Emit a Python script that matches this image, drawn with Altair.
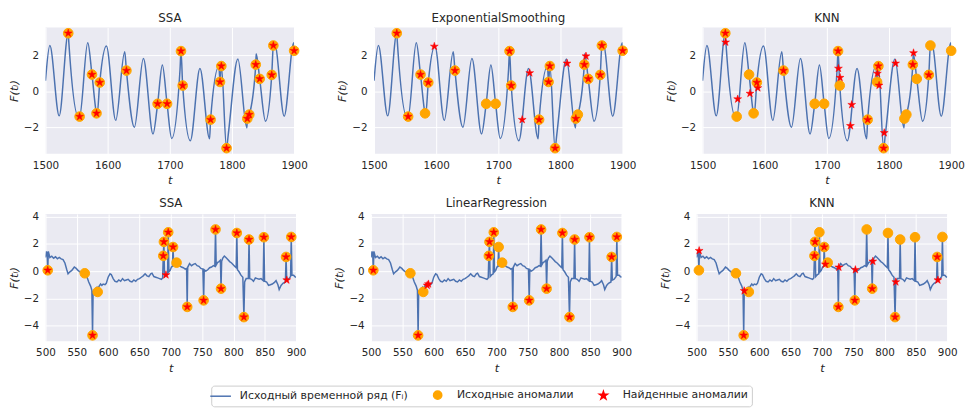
import altair as alt
import pandas as pd

# ---------------- labels ----------------
LBL_LINE = "Исходный временной ряд (Fᵢ)"
LBL_ANOM = "Исходные аномалии"
LBL_FOUND = "Найденные аномалии"

# ---------------- top row (t = 1500..1900) ----------------
top_start_t = [1500]
top_start_v = [0.6]
top_peak_t = [1507, 1537.5, 1568, 1598, 1627.5, 1657.5, 1688, 1716.5, 1748.5, 1779, 1809.5, 1839, 1869, 1899.5]
top_peak_v = [2.55, 2.75, 2.7, 2.52, 2.2, 1.83, 1.47, 1.25, 1.28, 1.38, 1.8, 2.1, 2.6, 2.7]
top_trough_t = [1522, 1553, 1583, 1613, 1643, 1673, 1703, 1733, 1764, 1794, 1824, 1854, 1884]
top_trough_v = [-1.35, -1.4, -1.3, -1.6, -1.98, -2.35, -2.6, -2.73, -2.62, -2.4, -2.02, -1.65, -1.37]

top_anom_t = [1536.6, 1554.9, 1574.8, 1582.1, 1587.3, 1630.2, 1680.4, 1695.6, 1718.0, 1720.7, 1765.6,
              1780.8, 1782.9, 1791.3, 1824.7, 1827.9, 1838.3, 1844.6, 1864.0, 1866.6, 1900.0]
top_anom_v = [3.23, -1.39, 0.94, -1.21, 0.50, 1.16, -0.68, -0.68, 2.24, 0.33, -1.56,
              0.53, 1.41, -3.14, -1.50, -1.28, 1.49, 0.70, 0.92, 2.55, 2.26]

ssa_top_t = [1536.6, 1554.9, 1574.8, 1582.1, 1587.3, 1630.2, 1680.4, 1695.6, 1718.0, 1720.7, 1765.6,
             1780.8, 1782.9, 1791.3, 1824.7, 1827.9, 1838.3, 1844.6, 1864.0, 1866.6, 1900.0]
ssa_top_v = [3.23, -1.39, 0.94, -1.21, 0.50, 1.16, -0.68, -0.68, 2.24, 0.33, -1.56,
             0.53, 1.41, -3.14, -1.50, -1.28, 1.49, 0.70, 0.92, 2.55, 2.26]

es_top_t = [1536.6, 1554.9, 1574.8, 1587.3, 1597.0, 1630.2, 1718.0, 1720.7, 1738.4, 1750.5, 1765.6,
            1780.8, 1782.9, 1791.3, 1810.6, 1824.7, 1838.3, 1841.0, 1844.6, 1864.0, 1866.6, 1900.0]
es_top_v = [3.23, -1.39, 0.94, 0.50, 2.50, 1.16, 2.24, 0.33, -1.56, 1.03, -1.56,
            0.53, 1.41, -3.14, 1.56, -1.50, 1.49, 1.96, 0.70, 0.92, 2.55, 2.26]

knn_top_t = [1536.6, 1537.1, 1556.5, 1576.3, 1587.3, 1588.9, 1630.2, 1718.0, 1718.6, 1721.2, 1737.9,
             1740.0, 1765.6, 1781.3, 1782.9, 1784.0, 1791.3, 1792.3, 1810.6, 1838.3, 1839.4, 1864.0]
knn_top_v = [3.23, 2.73, -0.42, -0.11, 0.50, 0.20, 1.16, 2.24, 1.28, 0.77, -1.90,
             -0.73, -1.56, 1.00, 1.41, 0.34, -3.14, -2.29, 1.56, 1.49, 2.14, 0.92]

# ---------------- bottom row (t = 500..900) ----------------
bot_base_t = [500, 501.5, 502.6, 504.5, 507, 510, 513, 516, 519, 522, 525, 528, 531, 534, 536, 539, 542,
              546, 549, 552, 556, 559, 566, 569, 572, 574, 576, 579, 582, 585, 588, 590, 592, 595, 597,
              600, 603, 605, 608, 611, 614, 617, 620, 623, 626, 629, 632, 635, 638, 641, 644, 647, 650,
              653, 656, 659, 662, 665, 668, 670, 673, 676, 679, 682, 685, 687, 690, 692.3, 694.9, 697,
              699, 701, 702.6, 704.6, 705.4, 707, 711, 714, 717, 720, 723, 725.2, 727, 730, 733, 736,
              739, 742, 745, 748, 751.2, 753.4, 756, 759, 762, 765, 768, 770.3, 772.5, 775, 777, 779.2,
              781.2, 783, 785.5, 788, 791, 794, 797, 800, 803, 804.4, 806.4, 809, 812, 815, 817.9, 820.3,
              823.8, 826, 829, 832, 835, 838, 841, 844, 847.5, 849.7, 853, 856, 859, 862, 865, 868, 871,
              873, 876, 879, 882.9, 885.1, 888, 891.2, 893.4, 896, 898, 900]
bot_base_v = [1.0, 1.45, 1.3, 1.45, 1.0, 1.1, 0.95, 1.05, 0.9, 1.0, 0.9, 0.85, 0.6, 0.1, -0.2, -0.05, 0.05,
              0.3, 0.2, 0.05, -0.1, -0.05, -0.4, -0.8, -1.1, -1.4, -1.5, -1.35, -1.2, -1.15, -0.95, -1.05,
              -0.95, -1.0, -0.9, -0.45, -0.2, -0.25, -0.55, -0.75, -0.8, -0.65, -0.75, -0.55, -0.7, -0.65,
              -0.6, -0.75, -0.8, -0.65, -0.75, -0.6, -0.55, -0.45, -0.35, -0.2, -0.35, -0.4, -0.2, -0.15,
              -0.4, -0.45, -0.5, -0.55, -0.6, -0.5, -0.4, -0.28, -0.2, -0.05, 0.05, 0.3, 0.35, 0.45, 0.5,
              0.45, 0.4, 0.4, 0.3, 0.25, 0.15, 0.2, 0.28, 0.55, 0.4, 0.5, 0.55, 0.4, 0.35, 0.2, 0.15, 0.1,
              0.0, 0.1, 0.25, 0.3, 0.4, 0.35, 0.45, 0.65, 0.7, 0.8, 0.72, 0.95, 1.1, 1.0, 0.85, 0.7, 0.6,
              0.45, 0.3, 0.25, 0.1, -0.05, -0.3, -0.45, -0.8, -0.55, -0.55, -0.55, -0.6, -0.75, -0.5,
              -0.55, -0.6, -0.55, -0.7, -0.75, -0.8, -1.05, -1.0, -0.95, -0.85, -0.7, -1.0, -1.35, -1.05,
              -0.9, -0.8, -0.66, -0.6, -0.4, -0.3, -0.3, -0.4, -0.45]

bot_anom_t = [503.6, 562.7, 575.1, 583.3, 688, 689, 695.9, 703.6, 709.2, 726.2, 752.4, 771.4, 780.2,
              805.4, 816.7, 824.9, 848.6, 884, 892.3]
bot_anom_v = [0.06, -0.16, -4.72, -1.53, 1.12, 2.15, 2.85, 1.77, 0.62, -2.63, -2.15, 3.06, -1.29,
              2.80, -3.38, 2.32, 2.49, 1.04, 2.51]

ssa_bot_t = [503.6, 575.1, 688, 689, 692.3, 695.9, 703.6, 726.2, 752.4, 771.4, 780.2, 805.4, 816.7,
             824.9, 848.6, 884, 885.1, 892.3]
ssa_bot_v = [0.06, -4.72, 1.12, 2.15, -0.28, 2.85, 1.77, -2.63, -2.15, 3.06, -1.29, 2.80, -3.38,
             2.32, 2.49, 1.04, -0.66, 2.51]

lr_bot_t = [503.6, 575.1, 589.6, 591.6, 688, 689, 695.9, 726.2, 752.4, 771.4, 780.2, 805.4, 816.7,
            824.9, 848.6, 884, 892.3]
lr_bot_v = [0.06, -4.72, -1.05, -0.95, 1.12, 2.15, 2.85, -2.63, -2.15, 3.06, -1.29, 2.80, -3.38,
            2.32, 2.49, 1.04, 2.51]

knn_bot_t = [504, 575.1, 575.9, 688, 689, 703.6, 705.4, 726.2, 727, 752.4, 753.4, 780.2, 781.2,
             816.7, 817.9, 884, 885.1]
knn_bot_v = [1.50, -4.72, -1.45, 1.12, 2.15, 1.77, 0.50, -2.63, 0.28, -2.15, 0.10, -1.29, 0.72,
             -3.38, -0.80, 1.04, -0.66]

# ---------------- styling constants ----------------
BLUE = "#4C72B0"
ORANGE = "#FFA500"
RED = "#FF0000"
STAR = ("M0,-1L0.2245,-0.309L0.9511,-0.309L0.3633,0.118L0.5878,0.809L0,0.382"
        "L-0.5878,0.809L-0.3633,0.118L-0.9511,-0.309L-0.2245,-0.309Z")
LEGEND_LINE = "M-2.5,0L2.5,0"
FONT = "DejaVu Sans"
DOMAIN = [LBL_LINE, LBL_ANOM, LBL_FOUND]


def merge_series(ts_lists, vs_lists):
    pts = {}
    for ts, vs in zip(ts_lists, vs_lists):
        for t, v in zip(ts, vs):
            pts[t] = v
    items = sorted(pts.items())
    return pd.DataFrame({"t": [a for a, _ in items], "v": [b for _, b in items], "kind": LBL_LINE})


def pts_df(ts, vs, kind):
    return pd.DataFrame({"t": ts, "v": vs, "kind": kind})


top_line = merge_series([top_start_t, top_peak_t, top_trough_t, top_anom_t],
                        [top_start_v, top_peak_v, top_trough_v, top_anom_v])
bot_line = merge_series([bot_base_t, bot_anom_t], [bot_base_v, bot_anom_v])
top_anom = pts_df(top_anom_t, top_anom_v, LBL_ANOM)
bot_anom = pts_df(bot_anom_t, bot_anom_v, LBL_ANOM)

legend = alt.Legend(
    title=None, orient="none", legendX=168, legendY=363, direction="horizontal",
    symbolSize=70, symbolStrokeWidth=1.5, symbolOpacity=1,
    labelFont=FONT, labelFontSize=11, labelColor="#262626", labelOffset=14,
    strokeColor="#cccccc", fillColor="#ffffff", padding=4, cornerRadius=3,
    columnPadding=22, labelLimit=400,
)

stroke_scale = alt.Scale(domain=DOMAIN, range=[BLUE, ORANGE, RED])
fill_scale = alt.Scale(domain=DOMAIN, range=[BLUE, ORANGE, RED])
shape_scale = alt.Scale(domain=DOMAIN, range=[LEGEND_LINE, "circle", STAR])


def panel(title, line_df, anom_df, found_df, xdom, ydom, xticks, yticks, w, h, interp):
    x = alt.X("t:Q", scale=alt.Scale(domain=xdom, nice=False, zero=False, padding=0),
              axis=alt.Axis(values=xticks, format="d", title="t"))
    y = alt.Y("v:Q", scale=alt.Scale(domain=ydom, nice=False, zero=False, padding=0),
              axis=alt.Axis(values=yticks, format="d", title="F(tᵢ)"))
    line = alt.Chart(line_df).mark_line(interpolate=interp, strokeWidth=1.5, clip=True).encode(
        x=x, y=y, stroke=alt.Stroke("kind:N", scale=stroke_scale, legend=legend),
        order="t:Q")
    enc = dict(
        x=x, y=y,
        fill=alt.Fill("kind:N", scale=fill_scale, legend=legend),
        stroke=alt.Stroke("kind:N", scale=stroke_scale, legend=legend),
        shape=alt.Shape("kind:N", scale=shape_scale, legend=legend),
    )
    circles = alt.Chart(anom_df).mark_point(filled=True, size=95, opacity=1, strokeWidth=1).encode(**enc)
    stars = alt.Chart(found_df).mark_point(filled=True, size=70, opacity=1, strokeWidth=0.5).encode(**enc)
    return alt.layer(line, circles, stars).properties(title=title, width=w, height=h)


TX = [1500, 1600, 1700, 1800, 1900]
TY = [-2, 0, 2]
BX = [500, 550, 600, 650, 700, 750, 800, 850, 900]
BY = [-4, -2, 0, 2, 4]
TD = [-3.45, 3.55]
BD = [-5.15, 4.2]

top = alt.hconcat(
    panel("SSA", top_line, top_anom, pts_df(ssa_top_t, ssa_top_v, LBL_FOUND), [1500, 1900], TD, TX, TY, 252, 128, "monotone"),
    panel("ExponentialSmoothing", top_line, top_anom, pts_df(es_top_t, es_top_v, LBL_FOUND), [1500, 1900], TD, TX, TY, 252, 128, "monotone"),
    panel("KNN", top_line, top_anom, pts_df(knn_top_t, knn_top_v, LBL_FOUND), [1500, 1900], TD, TX, TY, 252, 128, "monotone"),
    spacing=29,
)
bottom = alt.hconcat(
    panel("SSA", bot_line, bot_anom, pts_df(ssa_bot_t, ssa_bot_v, LBL_FOUND), [500, 900], BD, BX, BY, 254, 129, "linear"),
    panel("LinearRegression", bot_line, bot_anom, pts_df(lr_bot_t, lr_bot_v, LBL_FOUND), [500, 900], BD, BX, BY, 254, 129, "linear"),
    panel("KNN", bot_line, bot_anom, pts_df(knn_bot_t, knn_bot_v, LBL_FOUND), [500, 900], BD, BX, BY, 254, 129, "linear"),
    spacing=27,
)

chart = alt.vconcat(top, bottom, spacing=10).resolve_scale(
    fill="shared", stroke="shared", shape="shared"
).properties(
    padding={"left": 0, "top": 0, "right": 0, "bottom": 0},
    background="white",
).configure_view(
    fill="#EAEAF2", strokeWidth=0,
).configure_axis(
    labelFont=FONT, labelFontSize=10.5, labelColor="#262626", labelPadding=7,
    labelFlush=False, labelOverlap=False,
    titleFont=FONT, titleFontSize=11.5, titleFontStyle="italic", titleFontWeight="normal",
    titleColor="#262626", titlePadding=4,
    grid=True, gridColor="#FFFFFF", gridWidth=1, gridOpacity=1,
    domain=False, ticks=False,
).configure_title(
    font=FONT, fontSize=12, fontWeight="normal", color="#262626", offset=2, anchor="middle",
)

chart.save("out.html", embed_options={"renderer": "svg", "actions": False})
